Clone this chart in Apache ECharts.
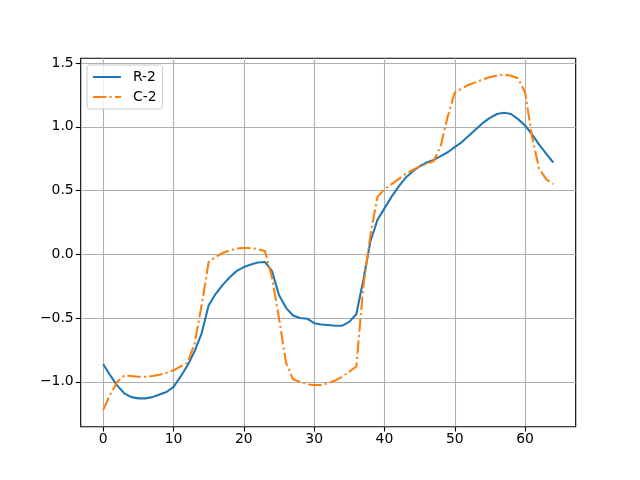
<!DOCTYPE html>
<html>
<head>
<meta charset="utf-8">
<script src="https://cdn.jsdelivr.net/npm/echarts@6/dist/echarts.min.js"></script>
<style>
html, body { margin: 0; padding: 0; background: #fff; }
#chart { width: 640px; height: 480px; }
</style>
</head>
<body>
<div id="chart"></div>
<script>
// x positions 0..64
var xs = []
for (var i = 0; i <= 64; i++) xs.push(i)

var r2 = [
	-0.86, -0.95, -1.03, -1.09, -1.12, -1.13, -1.13, -1.12, -1.10, -1.08,
	-1.04, -0.96, -0.87, -0.76, -0.62, -0.40, -0.31, -0.24, -0.18, -0.13,
	-0.10, -0.08, -0.065, -0.06, -0.13, -0.32, -0.42, -0.48, -0.50, -0.505,
	-0.54, -0.55, -0.555, -0.56, -0.56, -0.53, -0.47, -0.20, 0.10, 0.27,
	0.36, 0.45, 0.53, 0.60, 0.65, 0.69, 0.72, 0.74, 0.77, 0.80,
	0.84, 0.88, 0.93, 0.98, 1.03, 1.07, 1.10, 1.11, 1.10, 1.06,
	1.01, 0.94, 0.86, 0.79, 0.72
]
var c2 = [
	-1.22, -1.10, -1.00, -0.95, -0.955, -0.96, -0.96, -0.955, -0.945, -0.93,
	-0.91, -0.88, -0.85, -0.70, -0.40, -0.06, -0.02, 0.01, 0.03, 0.045,
	0.05, 0.05, 0.04, 0.025, -0.18, -0.50, -0.85, -0.98, -1.00, -1.02,
	-1.025, -1.025, -1.01, -0.99, -0.96, -0.92, -0.88, -0.25, 0.15, 0.45,
	0.51, 0.55, 0.59, 0.63, 0.66, 0.69, 0.71, 0.73, 0.85, 1.08,
	1.27, 1.30, 1.33, 1.35, 1.37, 1.39, 1.40, 1.41, 1.40, 1.38,
	1.27, 0.92, 0.67, 0.59, 0.55
]
var xTicks = [0, 10, 20, 30, 40, 50, 60]
var yTicks = [-1.0, -0.5, 0.0, 0.5, 1.0, 1.5]

function pairs(ys) {
	return xs.map(function (x, i) { return [x, ys[i]] })
}
function fmtY(v) {
	var s = Math.abs(v).toFixed(1)
	return v < 0 ? "\u2212" + s : s
}

var myCharts = echarts.init(document.getElementById("chart"))
var font = "DejaVu Sans"
var option = {
	animation: false,
	color: ["#1f77b4", "#ff7f0e"],
	grid: {
		left: 80.7,
		right: 64.3,
		top: 58.3,
		bottom: 53.3,
		show: true,
		borderColor: "#000",
		borderWidth: 1.1,
		containLabel: false,
	},
	legend: {
		orient: "vertical",
		left: 87,
		top: 65,
		padding: [5, 6, 5, 5],
		itemGap: 6,
		itemWidth: 28,
		itemHeight: 8,
		itemStyle: { opacity: 0 },
		backgroundColor: "rgba(255,255,255,0.8)",
		borderColor: "#cccccc",
		borderWidth: 1,
		borderRadius: 3,
		textStyle: {
			fontFamily: font,
			fontSize: 13.9,
			color: "#000",
			padding: [0, 0, 0, 7],
		},
		data: ["R-2", "C-2"],
	},
	xAxis: {
		type: "value",
		min: -3.2,
		max: 67.2,
		axisLine: { show: false, onZero: false },
		axisTick: {
			show: true,
			length: 4.9,
			inside: false,
			customValues: xTicks,
			lineStyle: { color: "#000", width: 1.1 },
		},
		axisLabel: {
			customValues: xTicks,
			margin: 6,
			fontFamily: font,
			fontSize: 13.9,
			color: "#000",
		},
		splitLine: { show: true, lineStyle: { color: "#b0b0b0", width: 1.1 } },
	},
	yAxis: {
		type: "value",
		min: -1.352,
		max: 1.537,
		axisLine: { show: false, onZero: false },
		axisTick: {
			show: true,
			length: 4.9,
			customValues: yTicks,
			lineStyle: { color: "#000", width: 1.1 },
		},
		axisLabel: {
			customValues: yTicks,
			margin: 7,
			fontFamily: font,
			fontSize: 13.9,
			color: "#000",
			formatter: fmtY,
		},
		splitLine: { show: true, lineStyle: { color: "#b0b0b0", width: 1.1 } },
	},
	series: [
		{
			name: "R-2",
			type: "line",
			data: pairs(r2),
			showSymbol: false,
			symbol: "none",
			lineStyle: { width: 2.08, color: "#1f77b4" },
		},
		{
			name: "C-2",
			type: "line",
			data: pairs(c2),
			showSymbol: false,
			symbol: "none",
			lineStyle: {
				width: 2.08,
				color: "#ff7f0e",
				type: [13.3, 3.3, 2.1, 3.3],
			},
		},
	],
}
myCharts.setOption(option)
</script>
</body>
</html>
